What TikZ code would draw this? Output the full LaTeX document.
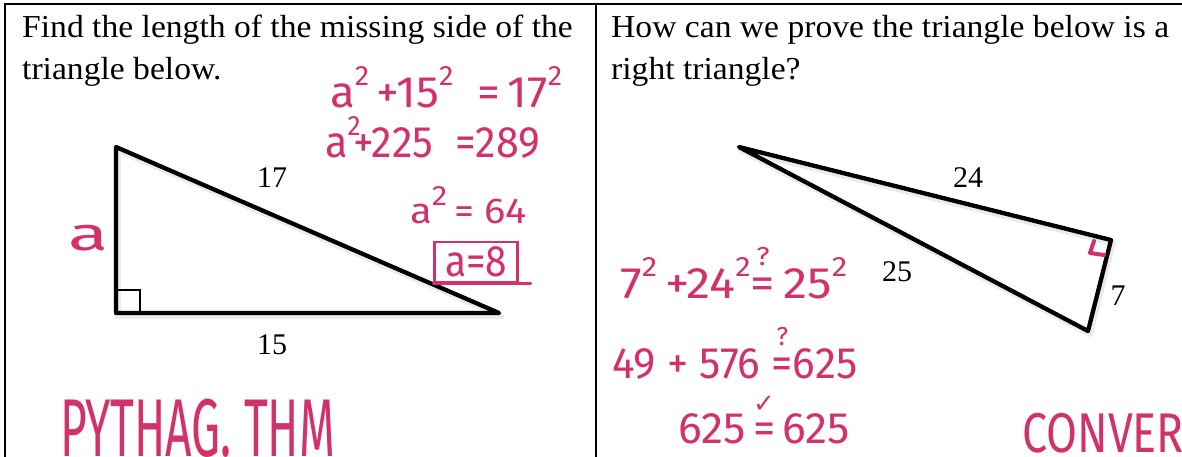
\documentclass[tikz,border=0pt]{standalone}
\usepackage{fontspec}
\usepackage{graphicx}
\setmainfont{Liberation Serif}
\newfontfamily\hwfont{Fira Sans}
\newfontfamily\symfont{DejaVu Sans}
\definecolor{hwc}{RGB}{210,50,105}
\newcommand\sqd{\raisebox{0.5em}{\fontsize{28}{28}\selectfont 2}}
\newcommand\qeq{\mbox{\ooalign{=\cr\hidewidth\raisebox{0.75em}{\fontsize{26}{26}\selectfont ?}\hidewidth\cr}}}
\newcommand\ceq{\mbox{\ooalign{=\cr\hidewidth\raisebox{0.7em}{\symfont\fontsize{26}{26}\selectfont ✓}\hidewidth\cr}}}
\newcommand\hwbox[2]{\resizebox{#1pt}{\height}{#2}}
\newcommand\wide[1]{\scalebox{1.05}[1]{#1}}
\begin{document}
\begin{tikzpicture}[x=1pt,y=-1pt,
  tri/.style={line width=4.3pt, line join=round, line cap=round},
  shadowline/.style={line width=6pt, line join=round, black!8},
  border/.style={line width=2.5pt},
  body/.style={font=\fontsize{32}{36}\selectfont, inner sep=0pt, anchor=base west},
  num/.style={font=\fontsize{30}{34}\selectfont, inner sep=0pt},
  hw/.style={text=hwc, font=\hwfont\fontsize{44}{48}\selectfont, inner sep=0pt, anchor=base west},
  hwline/.style={draw=hwc, line width=2.5pt, line cap=round, line join=round},
]
\useasboundingbox (0,0) rectangle (1182,457);
\clip (0,0) rectangle (1182,457);
\fill[white] (0,0) rectangle (1182,457);

% table frame
\coordinate (tl) at (5,4);
\coordinate (tr) at (1182,4);
\coordinate (bl) at (5,457);
\coordinate (dt) at (596,4);
\coordinate (db) at (596,457);
\draw[border] (bl) -- (tl) -- (tr);
\draw[border] (dt) -- (db);

% questions
\node[body] (q1a) at (22,38) {\wide{Find the length of the missing side of the}};
\node[body] (q1b) at (22,80) {\wide{triangle below.}};
\node[body] (q2a) at (611,38) {\wide{How can we prove the triangle below is a}};
\node[body] (q2b) at (611,80) {\wide{right triangle?}};

% left triangle
\coordinate (A) at (116,147);
\coordinate (B) at (116,313);
\coordinate (C) at (499,313);
\draw[shadowline] ([shift={(2,3)}]A) -- ([shift={(2,3)}]B) -- ([shift={(2,3)}]C) -- cycle;
\draw[tri] (A) -- (B) -- (C) -- cycle;
\coordinate (R1) at (140,313);
\coordinate (R2) at (140,290);
\coordinate (R3) at (116,290);
\draw[line width=1.3pt] (R1) -- (R2) -- (R3);
\node[num] (l17) at (272,178) {17};
\node[num] (l15) at (272,345) {15};

% right triangle
\coordinate (P) at (739,147);
\coordinate (Q) at (1111,240);
\coordinate (S) at (1088,331);
\draw[shadowline] ([shift={(2,3)}]P) -- ([shift={(2,3)}]Q) -- ([shift={(2,3)}]S) -- cycle;
\draw[tri] (P) -- (Q) -- (S) -- cycle;
\node[num] (l24) at (968,178) {24};
\node[num] (l25) at (897,272) {25};
\node[num] (l7) at (1118,296) {7};
\coordinate (M1) at (1094,241);
\coordinate (M2) at (1090,253);
\coordinate (M3) at (1104,255);
\draw[hwline, line width=4pt] (M1) -- (M2) -- (M3);

% handwriting, left
\node[hw] (e1) at (330,108) {\hwbox{232}{a\sqd\,+15\sqd\ \ =\,17\sqd}};
\node[hw] (e2) at (325,158) {\hwbox{215}{a\sqd\!+225\ \ =289}};
\node[hw, font=\hwfont\fontsize{36}{40}\selectfont] (e3) at (410,223) {\hwbox{117}{a\sqd\,= 64}};
\node[hw, anchor=center, draw=hwc, line width=2.5pt, minimum width=83pt, minimum height=40pt] (e4) at (476,262) {\hwbox{62}{a=8}};
\draw[hwline] (e4.south west) -- ([xshift=12pt]e4.south east);
\node[hw, font=\hwfont\fontsize{47}{50}\selectfont] (la) at (68,250) {\hwbox{40}{a}};
\node[hw, font=\hwfont\fontsize{82}{86}\selectfont] (pyth) at (60,456) {\hwbox{275}{PYTHAG. THM}};

% handwriting, right
\node[hw] (e7) at (620,298) {\hwbox{227}{7\sqd\,+24\sqd\qeq\,25\sqd}};
\node[hw] (e8) at (612,378) {\hwbox{245}{49 + 576 \qeq 625}};
\node[hw] (e9) at (678,443) {\hwbox{172}{625\,\ceq\,625}};
\node[hw, font=\hwfont\fontsize{56}{60}\selectfont] (conv) at (1022,452) {\scalebox{0.8}[1]{CONVER}};
\end{tikzpicture}
\end{document}
